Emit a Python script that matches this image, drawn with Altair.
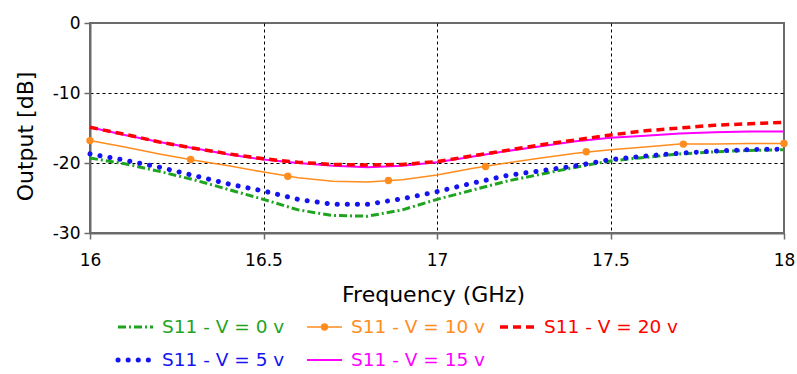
import altair as alt
import pandas as pd

# ---------------- data ----------------
freq = [16.0, 16.1, 16.2, 16.3, 16.4, 16.5, 16.6, 16.7, 16.8, 16.9, 17.0,
        17.1, 17.2, 17.3, 17.4, 17.5, 17.6, 17.7, 17.8, 17.9, 18.0]
s11_v0 = [-19.3, -20.1, -21.2, -22.4, -23.8, -25.2, -26.7, -27.5, -27.6, -26.7, -25.2,
          -23.9, -22.6, -21.6, -20.6, -19.7, -19.2, -18.7, -18.4, -18.2, -18.1]
s11_v5 = [-18.7, -19.6, -20.6, -21.8, -23.0, -24.0, -25.2, -25.9, -25.9, -25.1, -24.1,
          -22.9, -21.8, -21.1, -20.4, -19.5, -19.0, -18.6, -18.3, -18.1, -18.0]
s11_v10 = [-16.8, -17.7, -18.7, -19.6, -20.4, -21.3, -22.1, -22.6, -22.7, -22.4, -21.7,
           -20.8, -20.0, -19.3, -18.6, -18.1, -17.7, -17.3, -17.3, -17.2, -17.2]
s11_v15 = [-14.9, -16.0, -17.0, -17.9, -18.8, -19.5, -20.0, -20.4, -20.6, -20.4, -19.9,
           -19.1, -18.3, -17.6, -16.9, -16.4, -16.1, -15.8, -15.6, -15.5, -15.5]
s11_v20 = [-14.9, -15.9, -17.0, -17.9, -18.7, -19.4, -19.9, -20.2, -20.3, -20.2, -19.8,
           -19.0, -18.2, -17.4, -16.7, -16.0, -15.4, -15.0, -14.6, -14.4, -14.2]
marker_freq = [16.0, 16.29, 16.57, 16.86, 17.14, 17.43, 17.71, 18.0]
marker_v10 = [-16.8, -19.5, -21.9, -22.5, -20.5, -18.4, -17.3, -17.2]

labels = ["S11 - V = 0 v", "S11 - V = 5 v", "S11 - V = 10 v",
          "S11 - V = 15 v", "S11 - V = 20 v"]
x_ticks = [16, 16.5, 17, 17.5, 18]
y_ticks = [-30, -20, -10, 0]

# ---------------- styles ----------------
colors = ["#1fa41f", "#1414f0", "#ff8c1e", "#ff00ff", "#ff0000"]
styles = [
    dict(strokeWidth=3, strokeDash=[8, 3, 2, 3]),
    dict(strokeWidth=5, strokeDash=[0.1, 10], strokeCap="round"),
    dict(strokeWidth=1.5),
    dict(strokeWidth=2),
    dict(strokeWidth=3.5, strokeDash=[8, 5]),
]
series_vals = [s11_v0, s11_v5, s11_v10, s11_v15, s11_v20]

FONT = "DejaVu Sans"
W, H = 694, 210

xscale = alt.Scale(domain=[16, 18], nice=False, zero=False)
yscale = alt.Scale(domain=[-30, 0], nice=False, zero=False)

edge_test_x = "datum.value == 16 || datum.value == 18"
edge_test_y = "datum.value == -30 || datum.value == 0"

x_axis = alt.Axis(values=x_ticks, labelExpr="datum.value + ''", title="Frequency (GHz)",
                  grid=True, labelFlush=False, labelOverlap=False,
                  gridOpacity={"condition": {"test": edge_test_x, "value": 0}, "value": 1},
                  labelPadding=13, titleY=68, titleBaseline="alphabetic",
                  titleX=W / 2 - 4)
y_axis = alt.Axis(values=y_ticks, labelExpr="datum.value + ''", title="Output [dB]",
                  grid=True, labelFlush=False, labelOverlap=False,
                  gridOpacity={"condition": {"test": edge_test_y, "value": 0}, "value": 1},
                  labelPadding=4, titleAngle=-90, titleX=-58, titleY=113,
                  titleBaseline="alphabetic", titleAlign="center")

layers = []
for i, vals in enumerate(series_vals):
    df = pd.DataFrame({"freq": freq, "s11": vals, "series": labels[i]})
    enc = dict(
        x=alt.X("freq:Q", scale=xscale, axis=x_axis),
        y=alt.Y("s11:Q", scale=yscale, axis=y_axis),
    )
    layers.append(alt.Chart(df).mark_line(color=colors[i], **styles[i]).encode(**enc))
    if i == 2:
        mdf = pd.DataFrame({"freq": marker_freq, "s11": marker_v10})
        layers.append(alt.Chart(mdf).mark_point(filled=True, color=colors[2], size=55,
                                                opacity=1).encode(
            x=alt.X("freq:Q", scale=xscale),
            y=alt.Y("s11:Q", scale=yscale)))

# ---------------- legend (below the plot) ----------------
row_y = [304, 337]
col_x = [28, 217, 410]
pos = [(0, 0), (0, 1), (1, 0), (1, 1), (2, 0)]  # (column, row)
for i, lab in enumerate(labels):
    c, r = pos[i]
    ldf = pd.DataFrame({"label": [lab]})
    x0 = col_x[c]
    x1 = x0 + 35
    yv = row_y[r]
    layers.append(alt.Chart(ldf).mark_rule(color=colors[i], **styles[i]).encode(
        x=alt.value(x0), x2=alt.value(x1), y=alt.value(yv)))
    if i == 2:
        layers.append(alt.Chart(ldf).mark_point(filled=True, color=colors[2], size=55,
                                                opacity=1).encode(
            x=alt.value((x0 + x1) / 2), y=alt.value(yv)))
    layers.append(alt.Chart(ldf).mark_text(color=colors[i], font=FONT, fontSize=18.5,
                                           align="left", baseline="middle").encode(
        x=alt.value(x1 + 9), y=alt.value(yv), text="label:N"))

chart = alt.layer(*layers).properties(
    width=W, height=H,
    autosize=alt.AutoSizeParams(type="none"),
    padding={"left": 90, "top": 23, "right": 13, "bottom": 141},
    background="white",
).configure_view(
    stroke="#6b6b6b", strokeWidth=2
).configure_axis(
    domainColor="#6b6b6b", domainWidth=2,
    tickColor="#6b6b6b", tickSize=6, tickWidth=1.5,
    gridColor="#000000", gridDash=[3, 3], gridWidth=1,
    labelFont=FONT, labelFontSize=17, labelColor="#000000",
    titleFont=FONT, titleFontSize=22, titleFontWeight="normal", titleColor="#000000",
)

chart.save("out.html", embed_options={"renderer": "svg", "actions": False})
